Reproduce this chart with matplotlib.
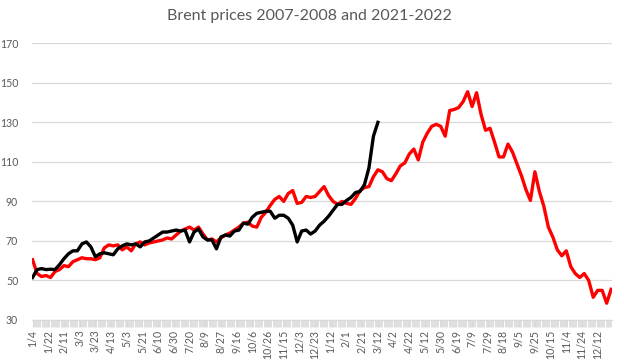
import matplotlib
matplotlib.use("Agg")
import matplotlib.pyplot as plt
import numpy as np

title = "Brent prices 2007-2008 and 2021-2022"

# tick labels, one every 14 trading days
date_labels = ["1/4", "1/22", "2/11", "3/3", "3/23", "4/13", "5/3", "5/21", "6/10",
               "6/30", "7/20", "8/9", "8/27", "9/16", "10/6", "10/26", "11/15", "12/3",
               "12/23", "1/12", "2/1", "2/21", "3/12", "4/2", "4/22", "5/12", "5/30",
               "6/19", "7/9", "7/29", "8/18", "9/5", "9/25", "10/15", "11/4", "11/24",
               "12/12"]
label_step = 14
n_days = 517
sample_step = 4

# Brent 2007-2008 (red), sampled every 4 trading days
brent_2007_2008 = [
    60.5, 53.5, 52.0, 52.5, 51.5, 54.5, 55.5, 57.5, 57.0, 59.5,
    60.5, 61.5, 61.0, 61.0, 60.5, 61.5, 66.5, 68.0, 67.5, 68.0,
    65.5, 67.0, 65.0, 68.5, 69.5, 68.0, 69.0, 69.5, 70.0, 70.5,
    71.5, 71.0, 73.0, 75.0, 76.0, 77.0, 75.5, 77.0, 73.5, 70.5,
    71.0, 69.5, 71.5, 73.0, 74.0, 75.5, 77.0, 79.0, 79.5, 77.5,
    77.0, 82.0, 84.5, 88.0, 91.0, 92.5, 90.0, 94.0, 95.5, 89.0,
    89.5, 92.5, 92.0, 92.5, 95.0, 97.5, 93.0, 90.0, 88.5, 90.0,
    89.0, 88.5, 91.5, 95.5, 97.0, 97.5, 102.5, 106.0, 105.0, 101.5,
    100.5, 104.0, 108.0, 109.5, 114.0, 116.5, 111.0, 120.0, 124.5, 128.0,
    129.0, 128.0, 123.0, 136.0, 136.5, 137.5, 140.5, 145.5, 138.0, 145.0,
    134.0, 126.0, 127.0, 120.0, 112.5, 112.5, 119.0, 115.0, 109.0, 103.0,
    96.0, 90.5, 105.0, 95.0, 87.5, 77.0, 72.0, 65.5, 62.5, 65.0,
    57.0, 53.5, 51.5, 53.5, 50.0, 41.5, 45.0, 45.0, 38.5, 45.5,
]

# Brent 2021-2022 (black), sampled every 4 trading days
brent_2021_2022 = [
    51.5, 55.5, 56.0, 55.5, 55.7, 55.5, 58.0, 61.0, 63.5, 65.0,
    65.0, 68.5, 69.5, 67.0, 62.0, 63.5, 64.0, 63.5, 63.0, 66.0,
    67.5, 68.5, 68.0, 68.5, 67.0, 69.5, 70.0, 71.5, 73.0, 74.5,
    74.5, 75.0, 75.5, 75.0, 75.5, 69.5, 74.5, 76.0, 72.0, 70.5,
    70.5, 66.0, 72.0, 73.0, 72.5, 75.0, 75.5, 79.0, 78.5, 82.0,
    84.0, 84.5, 85.0, 85.0, 81.5, 83.0, 83.0, 81.5, 78.0, 69.5,
    75.0, 75.5, 73.5, 75.0, 78.0, 80.0, 82.5, 85.5, 88.5, 88.5,
    90.5, 92.0, 94.5, 95.0, 98.5, 107.0, 123.0, 130.0,
]

plt.rcParams['font.family'] = ['Lato', 'DejaVu Sans']
text_color = "#595959"
grid_color = "#D9D9D9"

fig = plt.figure(figsize=(6.24, 3.64), dpi=100)
ax = fig.add_axes([32 / 624, 44 / 364, 579.7 / 624, 276.7 / 364])

x_red = np.arange(len(brent_2007_2008)) * sample_step
x_black = np.arange(len(brent_2021_2022)) * sample_step
ax.plot(x_red, brent_2007_2008, color="#FF0000", lw=2.4, solid_joinstyle="round")
ax.plot(x_black, brent_2021_2022, color="#000000", lw=2.4, solid_joinstyle="round")

ax.set_xlim(-0.5, n_days - 0.5)
ax.set_ylim(30, 170)
ax.set_yticks(np.arange(30, 171, 20))
ax.yaxis.grid(True, color=grid_color, lw=0.9)
ax.set_axisbelow(True)

label_pos = np.arange(len(date_labels)) * label_step
ax.set_xticks(label_pos)
ax.set_xticklabels(date_labels, rotation=90, ha="center", va="top")
ax.set_xticks(np.arange(0, n_days), minor=True)
ax.tick_params(axis="x", which="major", length=5, width=0.8, color=grid_color,
               labelsize=7.6, labelcolor=text_color, pad=2)
ax.tick_params(axis="x", which="minor", length=5, width=0.6, color=grid_color)
ax.tick_params(axis="y", length=0, labelsize=7.6, labelcolor=text_color, pad=10)

for s in ["top", "right", "left"]:
    ax.spines[s].set_visible(False)
ax.spines["bottom"].set_color(grid_color)
ax.spines["bottom"].set_linewidth(0.9)

fig.text(309 / 624, 1 - 16 / 364, title, ha="center", va="center",
         fontsize=11.5, color=text_color)

fig.savefig("out.png", dpi=100)
